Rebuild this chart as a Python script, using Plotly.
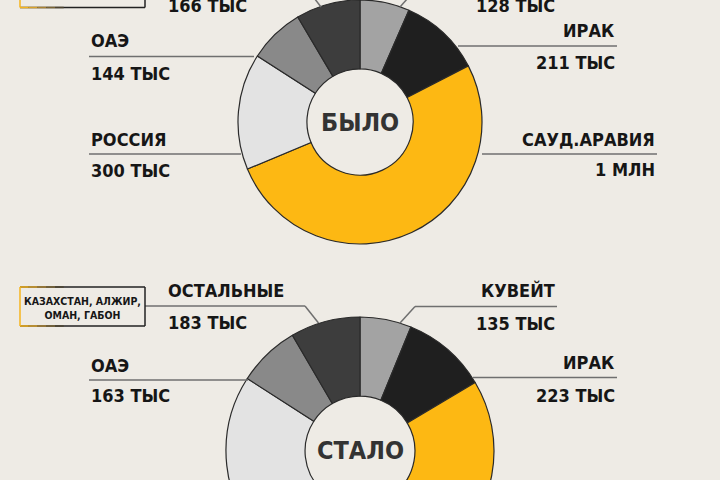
import plotly.graph_objects as go

# ---------------- data ----------------
countries = ["КУВЕЙТ", "ИРАК", "САУД.АРАВИЯ", "РОССИЯ", "ОАЭ", "ОСТАЛЬНЫЕ"]
before_values = [128, 211, 1000, 300, 144, 166]          # тыс. баррелей в сутки
after_values = [135, 223, 1000, 471, 163, 183]
before_text = ["128 ТЫС", "211 ТЫС", "1 МЛН", "300 ТЫС", "144 ТЫС", "166 ТЫС"]
after_text = ["135 ТЫС", "223 ТЫС", "1 МЛН", "471 ТЫС", "163 ТЫС", "183 ТЫС"]
before_others = "КАЗАХСТАН, АЛЖИР,<br>ОМАН"
after_others = "КАЗАХСТАН, АЛЖИР,<br>ОМАН, ГАБОН"
titles = ["БЫЛО", "СТАЛО"]
colors = ["#a3a3a3", "#1f1f1f", "#fdb813", "#e3e3e3", "#898989", "#3d3d3d"]

# ---------------- layout helpers (pixels -> paper) ----------------
W, H = 720, 600
BG = "#eeebe5"
FONT = "DejaVu Sans Condensed, Roboto, sans-serif"
TXT = "#161616"
LINE = "#6f6f6f"


def px(x):
    return x / W


def py(y):
    return 1 - y / H


fig = go.Figure()

# donut geometry: (cx, cy, R, hole)
donuts = [(360, 122, 122, 0.435), (360, 451, 134, 0.41)]
for (cx, cy, R, hole), vals in zip(donuts, [before_values, after_values]):
    fig.add_trace(go.Pie(
        labels=countries, values=vals, sort=False, direction="clockwise", rotation=0,
        hole=hole, textinfo="none", hoverinfo="label+value", showlegend=False,
        marker=dict(colors=colors, line=dict(color="#2a2a2a", width=1.2)),
        domain=dict(x=[px(cx - R), px(cx + R)], y=[py(cy + R), py(cy - R)]),
    ))

annotations = []
shapes = []


def label(x, y, text, anchor, size=18, color=TXT):
    annotations.append(dict(x=px(x), y=py(y), xref="paper", yref="paper", text=text,
                            showarrow=False, xanchor=anchor, yanchor="middle",
                            font=dict(family=FONT, size=size, color=color, weight="bold")))


def seg(x0, y0, x1, y1, color=LINE, w=1.5):
    shapes.append(dict(type="line", xref="paper", yref="paper", x0=px(x0), y0=py(y0),
                       x1=px(x1), y1=py(y1), line=dict(color=color, width=w)))


def box(x0, y0, x1, y1, text):
    # dark frame with yellow accent on the left fading into dark
    seg(x0, y0, x1, y0, "#222222", 1.5)
    seg(x0, y1, x1, y1, "#222222", 1.5)
    seg(x1, y0, x1, y1, "#222222", 1.5)
    fade = ["#f6b51c", "#d9a22a", "#a98232", "#7a6434", "#4d4430"]
    n = len(fade)
    step = (x1 - x0) * 0.35 / n
    for i, c in enumerate(fade):
        seg(x0 + i * step, y0, x0 + (i + 1) * step, y0, c, 1.5)
        seg(x0 + i * step, y1, x0 + (i + 1) * step, y1, c, 1.5)
    seg(x0, y0, x0, y1, "#f6b51c", 1.5)
    annotations.append(dict(x=px((x0 + x1) / 2), y=py((y0 + y1) / 2 + 1), xref="paper", yref="paper",
                            text=text, showarrow=False, xanchor="center", yanchor="middle",
                            font=dict(family=FONT, size=10.5, color=TXT, weight="bold")))


def block(name, value, x, y_name, y_line, y_val, anchor, line_to):
    label(x, y_name, name, anchor)
    label(x, y_val, value, anchor)
    seg(x, y_line, line_to, y_line)


# ---- top donut (БЫЛО) ----
block(countries[4], before_text[4], 89, 40.5, 56.5, 73, "left", 254)
block(countries[3], before_text[3], 89, 139.5, 154, 170, "left", 241)
block(countries[1], before_text[1], 617, 31, 46, 63, "right", 458)
block(countries[2], before_text[2], 657, 139.5, 154, 169, "right", 482)
# остальные / кувейт (upper parts cut off by the frame)
label(166, -26.5, countries[5], "left")
label(166, 5.5, before_text[5], "left")
seg(145, -10, 308, -10)
seg(308, -10, 321, 7)
label(557, -26.5, countries[0], "right")
label(557, 5.5, before_text[0], "right")
seg(557, -10, 415, -10)
seg(415, -10, 400, 7)
box(20, -31.5, 145, 7.5, before_others)
label(360, 123, titles[0], "center", 25, "#333333")

# ---- bottom donut (СТАЛО) ----
label(166, 290.5, countries[5], "left")
label(166, 322.5, after_text[5], "left")
seg(145, 306, 305, 306)
seg(305, 306, 318.5, 323)
box(20, 287, 145, 326, after_others)
block(countries[4], after_text[4], 89, 365.5, 380, 395.5, "left", 248)
label(557, 290.5, countries[0], "right")
label(557, 323, after_text[0], "right")
seg(557, 306.5, 415, 306.5)
seg(415, 306.5, 400, 323)
block(countries[1], after_text[1], 617, 362, 377.5, 395, "right", 473)
label(360, 450, titles[1], "center", 25, "#333333")
# lower labels of the second donut (outside the visible frame)
block(countries[3], after_text[3], 89, 520, 535, 551, "left", 235)
block(countries[2], after_text[2], 657, 520, 535, 551, "right", 488)

fig.update_layout(
    width=W, height=H, margin=dict(l=0, r=0, t=0, b=0),
    paper_bgcolor=BG, plot_bgcolor=BG,
    annotations=annotations, shapes=shapes,
)

fig.write_html("out.html")
